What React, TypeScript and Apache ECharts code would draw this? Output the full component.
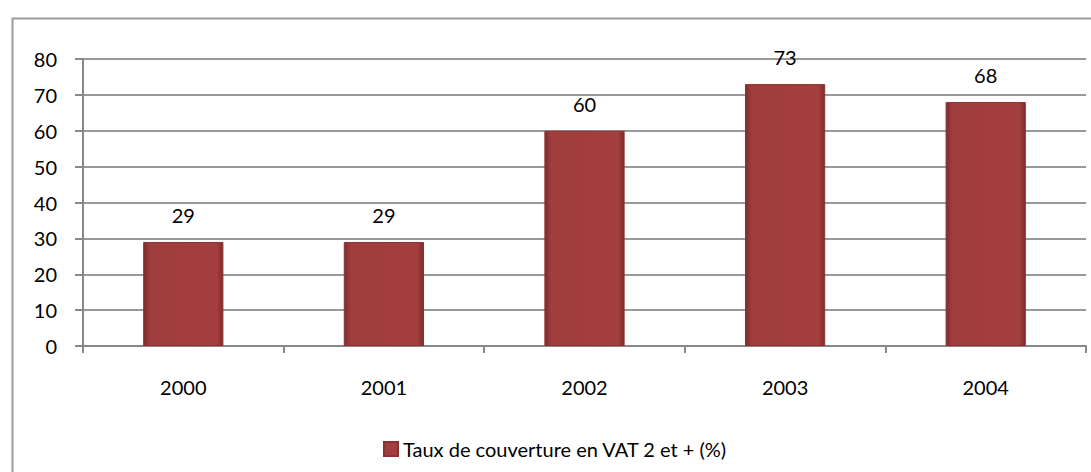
import React, { useEffect, useRef } from "react";
import * as echarts from "echarts";

const categories = ["2000", "2001", "2002", "2003", "2004"];
const values = [29, 29, 60, 73, 68];
const seriesName = "Taux de couverture en VAT 2 et + (%)";
const yMin = 0;
const yMax = 80;
const yInterval = 10;

export default function App() {
  const ref = useRef<HTMLDivElement>(null);
  useEffect(() => {
    document.body.style.margin = "0";
    const chart = echarts.init(ref.current!, null, { renderer: "svg" });
    const font = "Lato, 'Open Sans', sans-serif";
    const fs = 20;
    chart.setOption({
      animation: false,
      backgroundColor: "#ffffff",
      textStyle: { fontFamily: font },
      graphic: [
        {
          type: "rect",
          left: 10,
          top: 16,
          shape: { x: 0, y: 0, width: 1100, height: 500 },
          style: { fill: "none", stroke: "#9a9a9a", lineWidth: 2 },
          silent: true,
        },
      ],
      grid: { left: 83, right: 5, top: 59, bottom: 126, containLabel: false },
      legend: {
        bottom: 8,
        left: 378,
        icon: "rect",
        itemWidth: 14,
        itemHeight: 14,
        itemGap: 4,
        textStyle: { fontSize: fs, color: "#000", fontFamily: font },
        data: [seriesName],
      },
      xAxis: {
        type: "category",
        data: categories,
        axisLine: { show: true, lineStyle: { color: "#888", width: 2 } },
        axisTick: { show: true, length: 7, lineStyle: { color: "#888", width: 2 } },
        axisLabel: { fontSize: fs, color: "#000", margin: 31, fontFamily: font },
      },
      yAxis: {
        type: "value",
        min: yMin,
        max: yMax,
        interval: yInterval,
        axisLine: { show: true, lineStyle: { color: "#888", width: 2 } },
        axisTick: { show: true, length: 8, lineStyle: { color: "#888", width: 2 } },
        axisLabel: { fontSize: fs, color: "#000", margin: 26, fontFamily: font },
        splitLine: { show: true, lineStyle: { color: "#999", width: 2 } },
      },
      series: [
        {
          name: seriesName,
          type: "bar",
          data: values,
          barWidth: "40%",
          itemStyle: {
            color: {
              type: "linear",
              x: 0,
              y: 0,
              x2: 1,
              y2: 0,
              colorStops: [
                { offset: 0, color: "#7E2C2B" },
                { offset: 0.08, color: "#A03E3D" },
                { offset: 0.92, color: "#A33F3E" },
                { offset: 1, color: "#7E2C2B" },
              ],
            },
            borderColor: "#8A3231",
            borderWidth: 1,
          },
          label: {
            show: true,
            position: "top",
            distance: 17,
            fontSize: fs,
            color: "#000",
            fontFamily: font,
          },
        },
      ],
    });
    return () => chart.dispose();
  }, []);
  return <div ref={ref} style={{ width: 1091, height: 472 }} />;
}
